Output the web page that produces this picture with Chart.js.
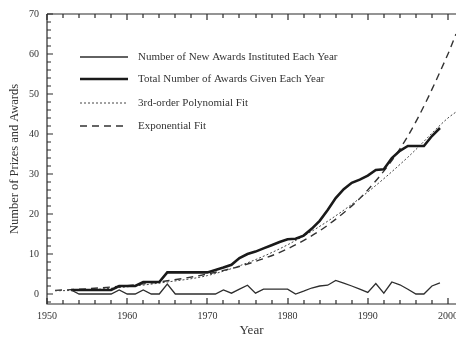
<!DOCTYPE html>
<html lang="en">
<head>
<meta charset="UTF-8">
<title>Number of Prizes and Awards</title>
<style>
    body {
        margin: 0;
        background-color: #fff;
    }
    #awardsChart {
        display: block;
    }
</style>
</head>
<body>
<canvas id="awardsChart" width="456" height="337"></canvas>

<script src="https://cdn.jsdelivr.net/npm/chart.js"></script>
<script>
// yearly series, 1953 - 1999
const years = [
    1953, 1954, 1955, 1956, 1957, 1958, 1959, 1960, 1961, 1962,
    1963, 1964, 1965, 1966, 1967, 1968, 1969, 1970, 1971, 1972,
    1973, 1974, 1975, 1976, 1977, 1978, 1979, 1980, 1981, 1982,
    1983, 1984, 1985, 1986, 1987, 1988, 1989, 1990, 1991, 1992,
    1993, 1994, 1995, 1996, 1997, 1998, 1999
];
const newAwards = [
    1, 0, 0, 0, 0, 0, 1, 0, 0, 1,
    0, 0, 2.5, 0, 0, 0, 0, 0, 0, 1,
    0.2, 1.2, 2.2, 0.2, 1.2, 1.2, 1.2, 1.2, 0, 0.7,
    1.5, 2, 2.2, 3.4, 2.7, 2, 1.2, 0.4, 2.6, 0.2,
    3, 2.3, 1.2, 0, 0, 2, 2.8
];
const totalAwards = [
    1, 1, 1, 1, 1, 1, 2, 2, 2, 3,
    3, 3, 5.4, 5.4, 5.4, 5.4, 5.4, 5.4, 6, 6.6,
    7.3, 9, 10, 10.6, 11.4, 12.2, 13, 13.7, 13.8, 14.6,
    16.3, 18.3, 21, 24, 26.2, 27.8, 28.6, 29.6, 31, 31.2,
    34, 35.8, 37, 37, 37, 39.5, 41.5
];

// fitted curves at a few years
const fitYears = [1951, 1955, 1960, 1965, 1970, 1975, 1980, 1985, 1990, 1995, 2000, 2001];
const polyFit  = [0.8, 1.0, 1.8, 3.0, 4.6, 7.8, 12.3, 18.2, 25.5, 34.2, 44, 45.5];
const expFit   = [0.9, 1.3, 2.1, 3.3, 5.0, 7.5, 11.3, 17.2, 26, 39.5, 60, 65];

const seriesNames = [
    'Number of New Awards Instituted Each Year',
    'Total Number of Awards Given Each Year',
    '3rd-order Polynomial Fit',
    'Exponential Fit'
];

const serif = '"Liberation Serif", "DejaVu Serif", serif';

function toPoints(xs, ys) {
    return xs.map((x, i) => ({ x: x, y: ys[i] }));
}

// frame with inward ticks, plus the legend inside the plot
const framePlugin = {
    id: 'frame',
    afterDraw(chart) {
        const ctx = chart.ctx;
        const a = chart.chartArea;
        const xs = chart.scales.x;
        const ys = chart.scales.y;
        const left = Math.round(a.left);
        const top = Math.round(a.top);
        const bottom = Math.round(a.bottom);

        ctx.save();
        ctx.setLineDash([]);
        ctx.strokeStyle = '#2a2a2a';
        ctx.lineWidth = 1.2;

        ctx.beginPath();
        ctx.moveTo(left, top);
        ctx.lineTo(left, bottom);
        ctx.lineTo(a.right, bottom);
        ctx.moveTo(left, top);
        ctx.lineTo(a.right, top);
        ctx.stroke();

        ctx.beginPath();
        for (let v = 1950; v <= 2000; v += 2) {
            const px = Math.round(xs.getPixelForValue(v));
            const len = v % 10 === 0 ? 6 : 4;
            ctx.moveTo(px, bottom);
            ctx.lineTo(px, bottom - len);
            ctx.moveTo(px, top);
            ctx.lineTo(px, top + len);
        }
        for (let v = -2; v <= 70; v += 2) {
            const py = Math.round(ys.getPixelForValue(v));
            const len = v % 10 === 0 ? 6 : 4;
            ctx.moveTo(left, py);
            ctx.lineTo(left + len, py);
        }
        ctx.stroke();

        // legend
        const rowY = [57, 79, 103, 126];
        chart.data.datasets.forEach((ds, i) => {
            const yy = rowY[i];
            ctx.beginPath();
            ctx.strokeStyle = ds.borderColor;
            ctx.lineWidth = ds.borderWidth;
            ctx.setLineDash(ds.borderDash || []);
            ctx.moveTo(80, yy);
            ctx.lineTo(128, yy);
            ctx.stroke();
            ctx.setLineDash([]);
            ctx.fillStyle = '#333';
            ctx.font = '11px ' + serif;
            ctx.textBaseline = 'middle';
            ctx.fillText(ds.label, 138, yy);
        });
        ctx.restore();
    }
};

const ctx = document.getElementById('awardsChart').getContext('2d');
const awardsChart = new Chart(ctx, {
    type: 'line',
    data: {
        datasets: [{
            label: seriesNames[0],
            data: toPoints(years, newAwards),
            borderColor: '#2e2e2e',
            borderWidth: 1.3,
            tension: 0
        }, {
            label: seriesNames[1],
            data: toPoints(years, totalAwards),
            borderColor: '#1a1a1a',
            borderWidth: 2.6,
            tension: 0
        }, {
            label: seriesNames[2],
            data: toPoints(fitYears, polyFit),
            borderColor: '#444',
            borderWidth: 1,
            borderDash: [2, 2],
            cubicInterpolationMode: 'monotone'
        }, {
            label: seriesNames[3],
            data: toPoints(fitYears, expFit),
            borderColor: '#333',
            borderWidth: 1.4,
            borderDash: [7, 5],
            cubicInterpolationMode: 'monotone'
        }]
    },
    options: {
        responsive: false,
        animation: false,
        layout: { padding: { top: 14, right: 0, bottom: 0, left: 0 } },
        elements: { point: { radius: 0 } },
        plugins: {
            legend: { display: false },
            tooltip: { enabled: false }
        },
        scales: {
            x: {
                type: 'linear',
                min: 1950,
                max: 2001,
                grid: { display: false, drawTicks: false },
                border: { display: false },
                ticks: {
                    stepSize: 10,
                    includeBounds: false,
                    padding: 6,
                    color: '#333',
                    font: { family: serif, size: 10 },
                    callback: function(value) { return String(value); }
                },
                title: {
                    display: true,
                    text: 'Year',
                    color: '#333',
                    font: { family: serif, size: 13, lineHeight: 1 },
                    padding: { top: 0, bottom: 0 }
                },
                afterFit: function(scale) {
                    scale.height = 33;
                    scale.paddingLeft = 0;
                    scale.paddingRight = 0;
                }
            },
            y: {
                min: -2.5,
                max: 70,
                grid: { display: false, drawTicks: false },
                border: { display: false },
                ticks: {
                    stepSize: 10,
                    includeBounds: false,
                    padding: 8,
                    color: '#333',
                    font: { family: serif, size: 10 }
                },
                title: {
                    display: true,
                    text: 'Number of Prizes and Awards',
                    color: '#333',
                    font: { family: serif, size: 12.5, lineHeight: 1 },
                    padding: { top: 8, bottom: 0 }
                },
                afterFit: function(scale) {
                    scale.width = 47;
                    scale.paddingTop = 0;
                    scale.paddingBottom = 0;
                }
            }
        }
    },
    plugins: [framePlugin]
});
</script>
</body>
</html>
